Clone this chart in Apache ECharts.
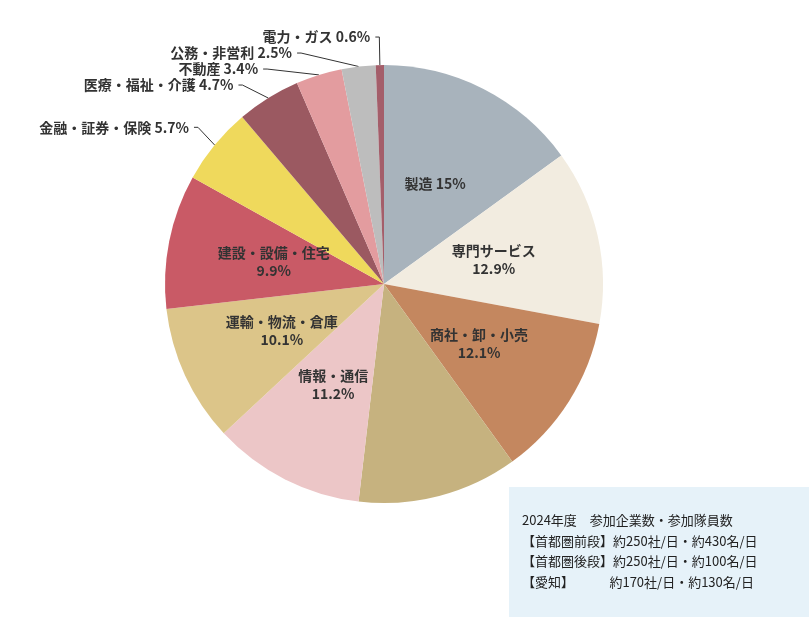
<!DOCTYPE html>
<html><head><meta charset="utf-8">
<script src="https://cdn.jsdelivr.net/npm/echarts@6/dist/echarts.min.js"></script>
<style>html,body{margin:0;padding:0;background:#fff}#c{width:809px;height:617px}</style>
</head><body><div id="c"></div>
<script>
const categories = ['製造','専門サービス','商社・卸・小売','サービス\n（生活・レジャー）','情報・通信','運輸・物流・倉庫','建設・設備・住宅','金融・証券・保険','医療・福祉・介護','不動産','公務・非営利','電力・ガス'];
const values = [15,12.9,12.1,11.8,11.2,10.1,9.9,5.7,4.7,3.4,2.5,0.6];
const colors = ['#a8b3bc','#f2ece0','#c4875f','#c6b27f','#ecc6c7','#dcc589','#c95a66','#efd95c','#9b5961','#e39c9f','#bdbdbd','#a45e6a'];
const infoLines = ['2024年度　参加企業数・参加隊員数','【首都圏前段】約250社/日・約430名/日','【首都圏後段】約250社/日・約100名/日','【愛知】　　　 約170社/日・約130名/日'];
const FONT = '"Noto Sans CJK JP", "Noto Sans", sans-serif';
const data = categories.map((n,i)=>{
  const inside = i < 7;
  const single = i === 0;
  return {
    name: n, value: values[i],
    itemStyle:{color:colors[i]},
    label: inside ? {
      position:'inside',
      formatter: single ? '{b} {c}%' : '{b}\n{c}%',
      lineHeight: 18
    } : {
      position:'outside',
      formatter:'{b} {c}%'
    },
    labelLine: inside ? {show:false} : {show:true, length:28, length2:4, lineStyle:{color:'#333',width:1}}
  };
});
const chart = echarts.init(document.getElementById('c'));
chart.setOption({
  animation:false,
  textStyle:{fontFamily:FONT},
  series:[{
    type:'pie', center:[384,284], radius:[0,219], startAngle:90, clockwise:true,
    data, label:{color:'#333',fontSize:14,fontWeight:'bold',fontFamily:FONT},
    emphasis:{disabled:true}
  }],
  graphic:[
    {type:'rect',shape:{x:509,y:487,width:300,height:130},style:{fill:'#e6f2f9'}},
    ...infoLines.map((t,i)=>({type:'text',x:522,y:514+i*20.5,style:{text:t,fill:'#222',font:'13px '+FONT}}))
  ]
});
</script></body></html>
